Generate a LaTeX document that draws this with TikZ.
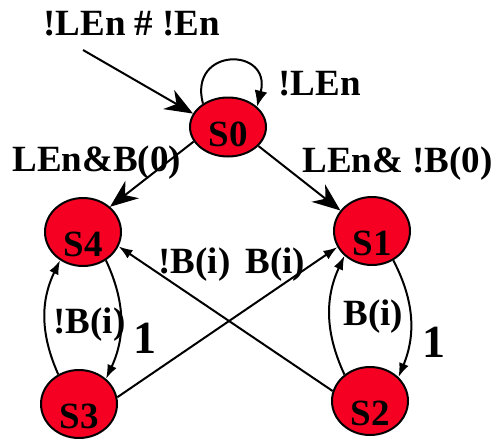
\documentclass[tikz,border=0pt]{standalone}
\usepackage{fontspec}
\setmainfont{Liberation Serif}
\usetikzlibrary{shapes.geometric,arrows.meta}
\definecolor{statered}{RGB}{245,0,35}
\tikzset{
  state/.style={ellipse, draw=black, line width=1pt, fill=statered, inner sep=0pt,
    minimum width=38pt, minimum height=34pt, text height=24pt, text depth=0pt,
    font=\fontsize{18.5}{20}\selectfont\bfseries},
  lbl/.style={anchor=base west, inner sep=0pt, font=\fontsize{18.5}{20}\selectfont\bfseries},
  biglbl/.style={lbl, font=\fontsize{23}{25}\selectfont\bfseries},
  bigarr/.style={-{Stealth[length=14pt,width=11pt,inset=4.5pt]}, line width=1pt},
  smallarr/.style={-{Latex[length=7pt,width=5pt]}, line width=1pt},
  looparr/.style={-{Latex[length=8pt,width=6.5pt]}, line width=1pt},
}
\begin{document}
\begin{tikzpicture}[x=0.5pt, y=-0.5pt] % {{{
\useasboundingbox (0,0) rectangle (493,439);
% States   {{{
\node[state, minimum height=29.5pt, text height=19pt] (S0) at (228,127) {S0};
\node[state] (S4) at (83,232) {S4};
\node[state] (S1) at (372,231) {S1};
\node[state] (S3) at (79,404) {S3};
\node[state] (S2) at (370,401) {S2};
% }}}
% Reset and self loop   {{{
\coordinate (init) at (83,50);
\draw[bigarr] (init) -- (S0.159);
\node[lbl] (initlbl) at (43,35) {!LEn \# !En};
\draw[looparr] (S0.137) .. controls +(-15,-57) and +(15,-60) .. (S0.35);
\node[lbl] (looplbl) at (278,95) {!LEn};
% }}}
% Leaving S0   {{{
\draw[bigarr] (S0.203) -- (S4.43);
\node[lbl] (s04lbl) at (12,171) {LEn\&B(0)};
\draw[bigarr] (S0.328) -- (S1.147);
\node[lbl] (s01lbl) at (302,172) {LEn\& !B(0)};
% }}}
% Left pair S4/S3   {{{
\draw[smallarr] (S3.125) to[bend left=25] (S4.231);
\draw[smallarr] (S4.309) to[bend left=25] (S3.43);
\node[lbl] (s34lbl) at (53,333) {!B(i)};
\node[biglbl] (s43lbl) at (133,353) {1};
% }}}
% Right pair S1/S2   {{{
\draw[smallarr] (S2.134) to[bend left=25] (S1.222);
\draw[smallarr] (S1.306) to[bend left=25] (S2.40);
\node[lbl] (s21lbl) at (343,325) {B(i)};
\node[biglbl] (s12lbl) at (422,357) {1};
% }}}
% Cross edges   {{{
\draw[smallarr] (S3.10) -- (S1.205);
\draw[smallarr] (S2.165) -- (S4.338);
\node[lbl] (s24lbl) at (158,273) {!B(i)};
\node[lbl] (s31lbl) at (245,273) {B(i)};
% }}}
\end{tikzpicture} % }}}
\end{document}
